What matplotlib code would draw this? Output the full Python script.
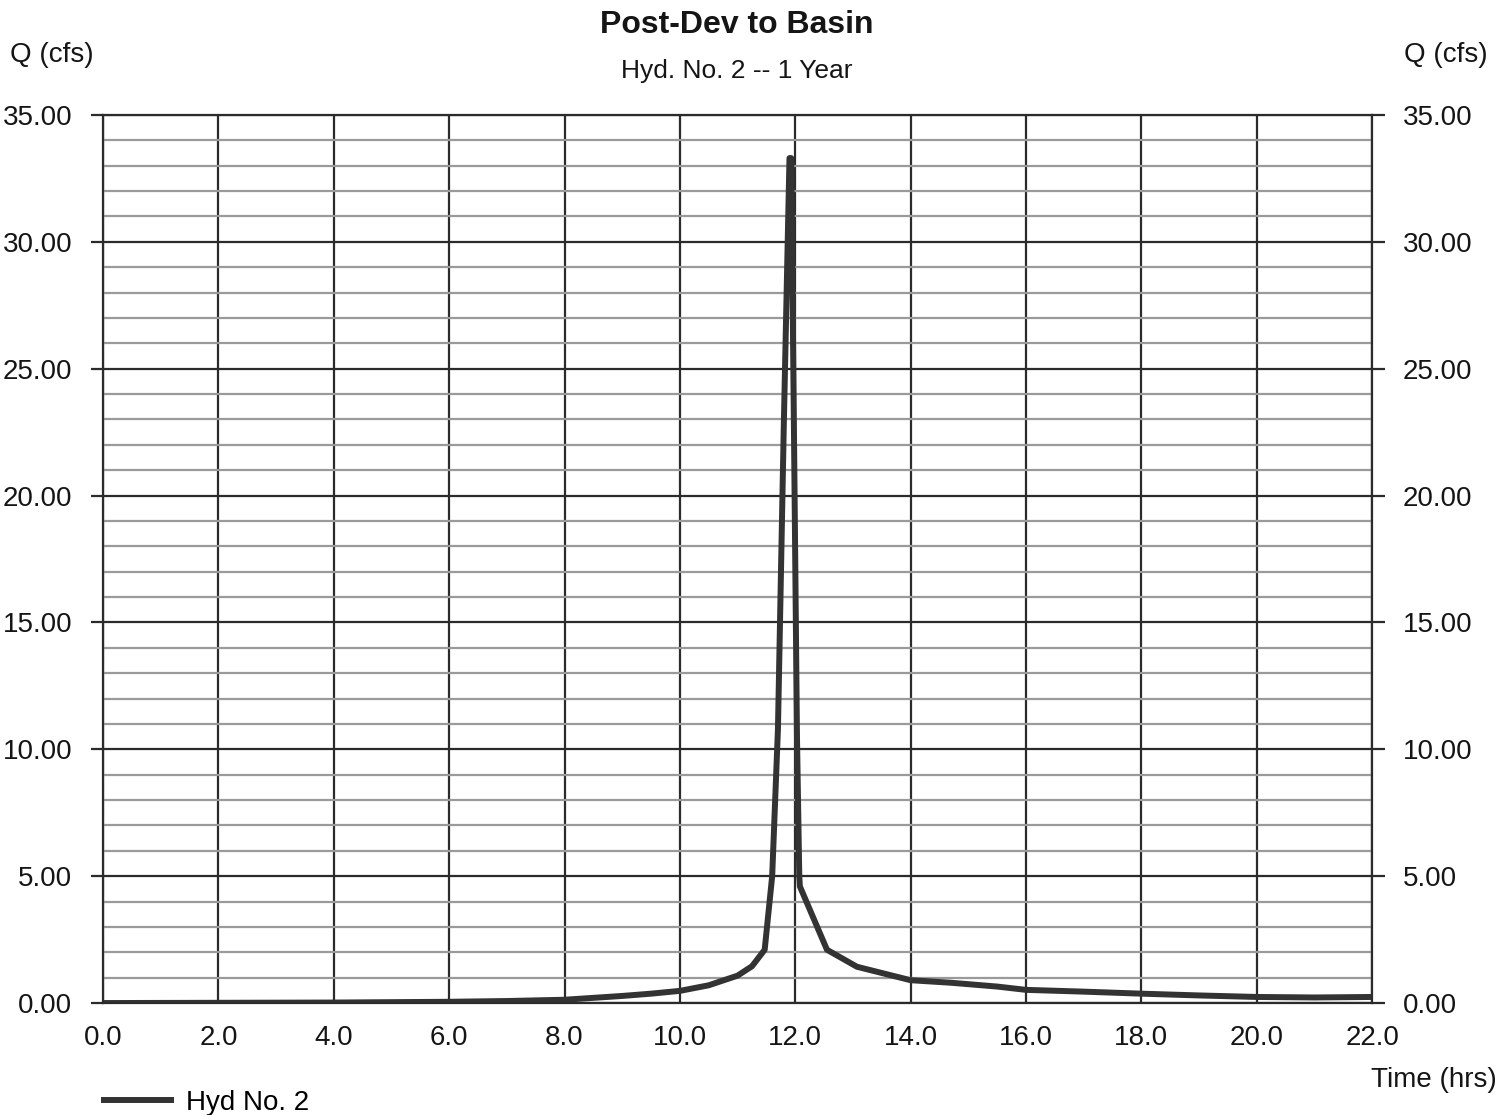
import matplotlib
matplotlib.use("Agg")
import matplotlib.pyplot as plt
from matplotlib.ticker import MultipleLocator, FormatStrFormatter

plt.rcParams["font.family"] = ["Liberation Sans", "DejaVu Sans"]

# Hydrograph: time (hrs) vs flow (cfs)
time_hrs = [0.0, 2.0, 4.0, 6.0, 7.0, 8.0, 9.0, 9.5, 10.0, 10.5, 11.0, 11.25,
            11.47, 11.6, 11.7, 11.8, 11.9, 11.93, 11.98, 12.03, 12.07,
            12.08, 12.55, 13.07, 14.0, 14.7, 15.5, 16.0, 17.0, 18.0, 19.0,
            20.0, 21.0, 22.0]
flow_cfs = [0.0, 0.01, 0.02, 0.05, 0.08, 0.13, 0.28, 0.37, 0.48, 0.7, 1.08, 1.45,
            2.1, 5.0, 10.8, 22.6, 33.3, 33.3, 22.0, 10.5, 5.0,
            4.6, 2.1, 1.43, 0.9, 0.8, 0.65, 0.52, 0.45, 0.37, 0.3,
            0.24, 0.22, 0.24]

series_label = "Hyd No. 2"
title = "Post-Dev to Basin"
subtitle = "Hyd. No. 2 -- 1 Year"

dark = "#2b2b2b"
minor_gray = "#9a9a9a"
text_color = "#151515"

fig = plt.figure(figsize=(15.06, 11.15), dpi=100)
ax = fig.add_axes([0.0684, 0.1004, 0.8427, 0.7965])

ax.set_xlim(0, 22)
ax.set_ylim(0, 35)
ax.xaxis.set_major_locator(MultipleLocator(2))
ax.yaxis.set_major_locator(MultipleLocator(5))
ax.yaxis.set_minor_locator(MultipleLocator(1))
ax.xaxis.set_major_formatter(FormatStrFormatter("%.1f"))
ax.yaxis.set_major_formatter(FormatStrFormatter("%.2f"))

# grid: dark verticals every 2 h, dark horizontals every 5 cfs, gray every 1 cfs
ax.grid(which="major", axis="both", color=dark, linewidth=1.6)
ax.grid(which="minor", axis="y", color=minor_gray, linewidth=1.6)
ax.set_axisbelow(True)

for side in ["left", "right", "top", "bottom"]:
    ax.spines[side].set_color(dark)
    ax.spines[side].set_linewidth(1.6)

ax.tick_params(axis="y", which="major", left=True, right=True, labelleft=True,
               labelright=True, length=9, width=1.6, color=dark, pad=13,
               labelsize=20, labelcolor=text_color)
ax.tick_params(axis="y", which="minor", left=False, right=False)
ax.tick_params(axis="x", which="major", length=0, pad=16, labelsize=20,
               labelcolor=text_color)

line, = ax.plot(time_hrs, flow_cfs, color="#333333", linewidth=4.3,
                solid_joinstyle="round", label=series_label)

fig.text(0.489, 0.978, title, ha="center", va="center", fontsize=23,
         fontweight="bold", color=text_color)
fig.text(0.489, 0.936, subtitle, ha="center", va="center", fontsize=19,
         color=text_color)
fig.text(0.0066, 0.951, "Q (cfs)", ha="left", va="center", fontsize=20,
         color=text_color)
fig.text(0.9326, 0.951, "Q (cfs)", ha="left", va="center", fontsize=20,
         color=text_color)
fig.text(0.994, 0.031, "Time (hrs)", ha="right", va="center", fontsize=20,
         color=text_color)

fig.legend(handles=[line], loc="center left", bbox_to_anchor=(0.062, 0.011),
           frameon=False, fontsize=20, handlelength=2.4, handletextpad=0.55,
           borderaxespad=0)

fig.savefig("out.png", dpi=100, facecolor="white")
